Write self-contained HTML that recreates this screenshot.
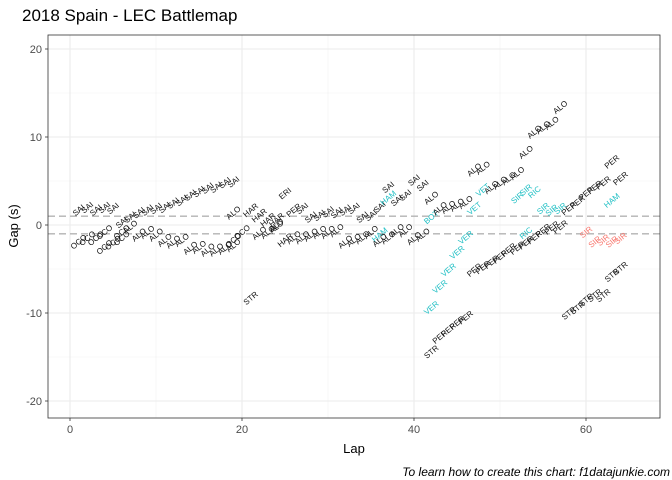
<!DOCTYPE html>
<html><head><meta charset="utf-8"><style>
body{margin:0;background:#fff;}
svg{display:block;font-family:"Liberation Sans",sans-serif;}
</style></head><body>
<svg id="chart" width="672" height="480" viewBox="0 0 672 480" xmlns="http://www.w3.org/2000/svg">
<rect width="672" height="480" fill="#fff"/>
<text x="22" y="21" font-size="17" fill="#000">2018 Spain - LEC Battlemap</text>
<g id="grid"></g>
<g id="marks"></g>
<rect x="48" y="35" width="612" height="383" fill="none" stroke="#333" stroke-width="0.8"/>
<g id="axes"></g>
<text x="354" y="453" font-size="13" text-anchor="middle">Lap</text>
<text transform="translate(18,226) rotate(-90)" font-size="13" text-anchor="middle">Gap (s)</text>
<text x="670" y="476" font-size="12" font-style="italic" text-anchor="end">To learn how to create this chart: f1datajunkie.com</text>
</svg>
<script>
const xTicks=[0,20,40,60];
const xMinor=[10,30,50];
const yTicks=[-20,-10,0,10,20];
const yMinor=[-15,-5,5,15];
const refLines=[1,-1];
const labels=["SAI","SAI","SAI","SAI","SAI","SAI","SAI","SAI","SAI","SAI","SAI","SAI","SAI","SAI","SAI","SAI","SAI","SAI","SAI",
"OCO","OCO","OCO","OCO","OCO","OCO","OCO","OCO","OCO","OCO",
"ALO","ALO","ALO","ALO","ALO","ALO","ALO","ALO","ALO","ALO","ALO","ALO","ALO",
"ALO","HAR","HAR","HAR","HAR","ALO","ERI","PER","SAI","HAR",
"ALO","ALO","ALO","ALO","ALO","ALO","ALO","ALO","ALO",
"SAI","SAI","SAI","SAI","SAI","SAI","SAI","SAI","SAI","HAM","SAI","SAI","SAI","SAI","SAI","ALO",
"ALO","ALO","ALO","ALO","HAM","ALO","ALO","ALO","ALO","ALO","ALO","BOT",
"ALO","ALO","ALO","ALO","ALO","ALO","VET","VET","ALO","ALO","ALO","ALO","ALO","ALO","ALO","ALO","ALO",
"SIR","SIR","RIC","SIR","SIR","SIR","PER","PER","PER","PER","PER","PER","PER","HAM",
"RIC","SIR","SIR","SIR","SIR","SIR",
"VER","VER","VER","VER","VER",
"PER","PER","PER","PER","PER","PER","PER","PER","PER","PER","PER",
"STR","PER","PER","PER","PER",
"STR","STR","STR","STR","STR","STR","STR","STR"];
const laps=[1,2,3,4,5,6,7,8,9,10,11,12,13,14,15,16,17,18,19,
1,2,3,4,4,5,6,6,19,20,
7,8,9,10,11,12,13,14,15,16,17,18,19,
19,21,22,23,24,24,25,26,27,25,
26,27,28,29,30,31,22,23,24,
28,29,30,31,32,33,34,35,36,37,37,38,39,40,41,42,
32,33,34,35,36,36,37,38,39,40,41,42,
43,44,45,46,47,48,48,47,49,50,51,52,53,54,55,56,57,
52,53,54,55,56,57,58,59,60,61,62,63,64,63,
53,60,61,62,63,64,
46,45,44,43,42,
47,48,49,50,51,52,53,54,55,56,57,
42,43,44,45,46,
21,58,59,60,61,62,63,64];
const gaps=[1.7,2.0,1.7,2.0,1.9,0.3,0.9,1.4,1.7,1.9,2.0,2.5,2.8,3.4,3.8,4.2,4.3,4.8,4.9,
-1.9,-1.5,-1.5,-0.8,-2.5,-2.0,-1.5,-0.8,-1.7,-0.8,
-0.2,-1.1,-0.8,-1.1,-1.7,-1.9,-1.7,-2.6,-2.5,-2.8,-2.8,-2.6,-2.3,
1.4,1.7,1.1,0.6,0.6,0.0,3.6,1.7,1.9,-1.7,
-1.4,-1.4,-1.1,-0.8,-0.8,-0.6,-0.9,-0.8,-0.2,
0.9,1.1,1.5,1.4,1.7,1.9,0.9,1.1,2.05,3.1,4.3,2.8,3.4,5.1,4.5,3.1,
-1.9,-1.7,-1.4,-0.8,-1.1,-1.7,-1.4,-0.6,-0.6,-1.5,-1.1,0.9,
1.9,2.05,2.3,2.6,6.3,6.5,4.0,1.9,4.3,4.8,5.3,5.9,8.3,10.6,11.1,11.6,13.4,
3.1,4.0,3.75,1.9,1.7,1.9,1.9,2.6,3.6,4.3,4.8,7.2,5.3,2.8,
-0.9,-0.8,-1.9,-1.7,-1.9,-1.5,
-1.4,-3.1,-5.1,-7.0,-9.4,
-5.1,-4.8,-4.2,-3.6,-2.8,-2.6,-2.0,-1.4,-0.6,-0.3,-0.2,
-14.4,-12.7,-11.9,-11.1,-10.5,
-8.3,-10.0,-9.4,-8.5,-8.0,-8.0,-5.7,-4.9];
const colorGroups={HAM:"cyan",VET:"cyan",BOT:"cyan",VER:"cyan",RIC:"cyan",SIR:"cyan"};
const palette={black:"#111",cyan:"#1fbfc4",red:"#f8766d"};
const X=l=>70+(l-0)*8.6;
const Y=g=>225-g*8.8;
const NS="http://www.w3.org/2000/svg";
const grid=document.getElementById('grid'),marks=document.getElementById('marks'),axes=document.getElementById('axes');
function ln(p,x1,y1,x2,y2,c,w,dash){const l=document.createElementNS(NS,'line');l.setAttribute('x1',x1);l.setAttribute('y1',y1);l.setAttribute('x2',x2);l.setAttribute('y2',y2);l.setAttribute('stroke',c);l.setAttribute('stroke-width',w);if(dash)l.setAttribute('stroke-dasharray',dash);p.appendChild(l);return l;}
xMinor.forEach(v=>{const l=ln(grid,X(v),35,X(v),418,"#f2f2f2",0.6);

});
yMinor.forEach(v=>{const l=ln(grid,48,Y(v),660,Y(v),"#f2f2f2",0.6);

});
xTicks.forEach(v=>{const l=ln(grid,X(v),35,X(v),418,"#ebebeb",1.1);


const t=ln(axes,X(v),418,X(v),421,"#333",0.8);


const tx=document.createElementNS(NS,'text');tx.setAttribute('x',X(v));tx.setAttribute('y',433);tx.setAttribute('font-size','11');tx.setAttribute('fill','#4d4d4d');tx.setAttribute('text-anchor','middle');tx.textContent=v;


axes.appendChild(tx);});
yTicks.forEach(v=>{const l=ln(grid,48,Y(v),660,Y(v),"#ebebeb",1.1);


const t=ln(axes,45,Y(v),48,Y(v),"#333",0.8);


const tx=document.createElementNS(NS,'text');tx.setAttribute('x',42);tx.setAttribute('y',Y(v)+4);tx.setAttribute('font-size','11');tx.setAttribute('fill','#4d4d4d');tx.setAttribute('text-anchor','end');tx.textContent=v;


axes.appendChild(tx);});
refLines.forEach(v=>{const l=ln(grid,48,Y(v),660,Y(v),"#b3b3b3",1.3,"7,4");

});
labels.forEach((lab,i)=>{
 let c="black";
 if(colorGroups[lab])c=colorGroups[lab];
 if(lab==="SIR"&&laps[i]>=60&&gaps[i]<0)c="red";
 const t=document.createElementNS(NS,'text');
 const x=X(laps[i]),y=Y(gaps[i]);
 t.setAttribute('x',x);t.setAttribute('y',y+2.8);
 t.setAttribute('transform','rotate(-40 '+x+' '+y+')');
 t.setAttribute('font-size','8');t.setAttribute('text-anchor','middle');t.setAttribute('fill',palette[c]);
 t.textContent=lab;
 
 
 marks.appendChild(t);
});
</script>
</body></html>
